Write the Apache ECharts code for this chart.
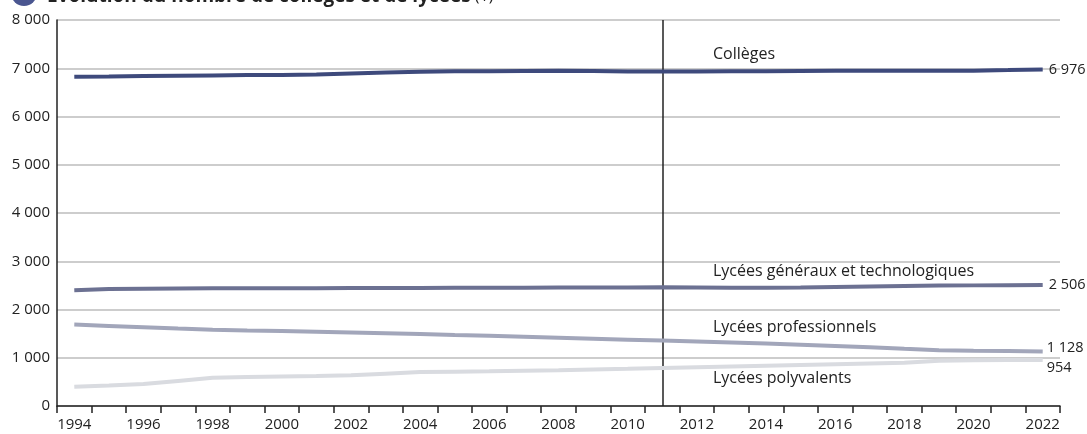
<!DOCTYPE html>
<html><head><meta charset="utf-8">
<script src="https://cdn.jsdelivr.net/npm/echarts@6/dist/echarts.min.js"></script>
<style>html,body{margin:0;padding:0;background:#fff}#c{width:1087px;height:434px}</style>
</head><body><div id="c"></div>
<script>
const years = ['1994','1995','1996','1997','1998','1999','2000','2001','2002','2003','2004','2005','2006','2007','2008','2009','2010','2011','2012','2013','2014','2015','2016','2017','2018','2019','2020','2021','2022'];
const colleges = [6824,6830,6838,6845,6852,6858,6862,6868,6890,6910,6930,6938,6940,6945,6948,6942,6935,6932,6935,6938,6940,6945,6948,6950,6950,6948,6950,6962,6976];
const lyceesGT = [2400,2425,2430,2435,2440,2440,2440,2442,2445,2445,2448,2450,2450,2452,2455,2455,2458,2460,2455,2450,2450,2455,2465,2475,2485,2495,2500,2503,2506];
const lyceesPro = [1687,1660,1633,1605,1580,1565,1556,1540,1525,1510,1490,1470,1455,1435,1415,1395,1375,1355,1335,1315,1295,1270,1245,1220,1185,1155,1145,1138,1128];
const lyceesPoly = [400,425,455,520,585,600,610,620,635,670,705,712,720,730,740,755,770,790,805,820,835,850,865,880,895,940,950,952,954];
const seriesNames = ['Collèges','Lycées généraux et technologiques','Lycées professionnels','Lycées polyvalents'];
const yTicks = [0,1000,2000,3000,4000,5000,6000,7000,8000];
const markYear = '2011';
const titleText = 'Évolution du nombre de collèges et de lycées';
const titleNote = ' (1)';

const FONT = '"Open Sans", sans-serif';
const fmt = v => String(v).replace(/\B(?=(\d{3})+(?!\d))/g, ' ');
const colors = ['#3e4a7c','#6c7192','#a2a6ba','#d9dbe0'];
const datasets = [colleges, lyceesGT, lyceesPro, lyceesPoly];
const endOffsets = [[0,0],[0,0],[-2,-4],[-2,8]];

const chart = echarts.init(document.getElementById('c'), null, {renderer:'canvas'});
const series = datasets.map((d,i)=>({
  name: seriesNames[i], type:'line', data:d, symbol:'none', silent:true,
  lineStyle:{color:colors[i], width:4},
  z: 10-i,
  endLabel:{show:true, formatter:p=>fmt(p.value), color:'#222', fontFamily:FONT, fontSize:14.5, offset:endOffsets[i], distance:6},
  markLine: i===0 ? {silent:true, symbol:'none', label:{show:false}, lineStyle:{color:'#222', width:1.5, type:'solid'}, data:[{xAxis:markYear}]} : undefined
}));

chart.setOption({
  animation:false,
  grid:{left:57, right:27, top:20, bottom:28, containLabel:false},
  xAxis:{type:'category', data:years, boundaryGap:true,
    axisLine:{lineStyle:{color:'#222', width:1.5}},
    axisTick:{show:true, interval:0, length:7, lineStyle:{color:'#222', width:1.5}},
    axisLabel:{interval:1, color:'#222', fontFamily:FONT, fontSize:15, margin:11},
    splitLine:{show:false}},
  yAxis:{type:'value', min:yTicks[0], max:yTicks[yTicks.length-1], interval:1000,
    axisLine:{show:true, lineStyle:{color:'#222', width:1.5}},
    axisTick:{show:false},
    axisLabel:{color:'#222', fontFamily:FONT, fontSize:15, margin:7, formatter:v=>fmt(v)},
    splitLine:{lineStyle:{color:'#bdbdbd', width:1.5}}},
  series: series,
  graphic:[
    {type:'circle', shape:{cx:24, cy:-7, r:13}, style:{fill:'#4a5690'}},
    {type:'text', left:47, top:-13, style:{rich:{b:{font:'bold 19px '+FONT, fill:'#222'}, n:{font:'16px '+FONT, fill:'#222'}}, text:'{b|'+titleText+'}{n|'+titleNote+'}'}},
    {type:'text', left:713, top:46, style:{text:seriesNames[0], font:'16px '+FONT, fill:'#222'}},
    {type:'text', left:713, top:263, style:{text:seriesNames[1], font:'16px '+FONT, fill:'#222'}},
    {type:'text', left:713, top:319, style:{text:seriesNames[2], font:'16px '+FONT, fill:'#222'}},
    {type:'text', left:713, top:370, style:{text:seriesNames[3], font:'16px '+FONT, fill:'#222'}}
  ]
});
</script></body></html>
